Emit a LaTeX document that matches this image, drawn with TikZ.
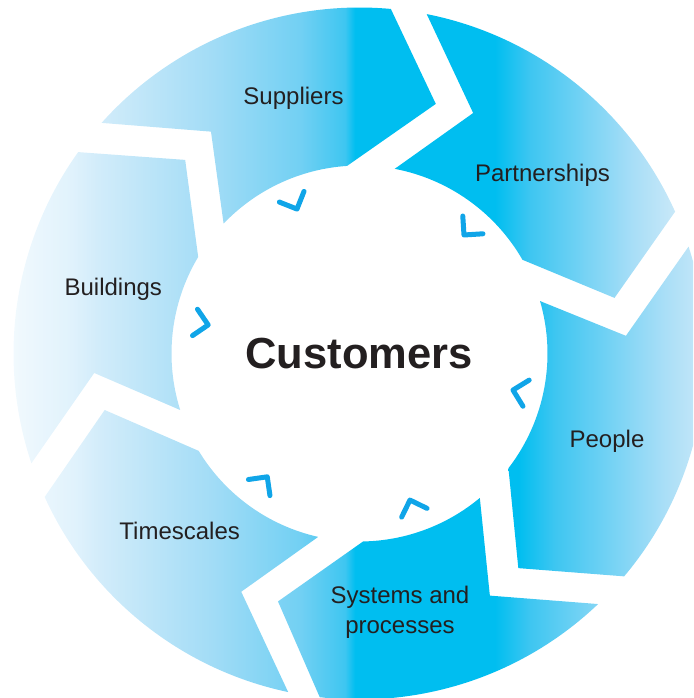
\documentclass[tikz,border=0pt]{standalone}
\usepackage{fontspec}
\setmainfont{Liberation Sans}
\usepackage{tikz}
\usetikzlibrary{positioning}
\usepackage{xcolor}

\definecolor{ringA}{HTML}{F6FBFE}
\definecolor{ringB}{HTML}{E0F2FC}
\definecolor{ringC}{HTML}{D2ECFA}
\definecolor{ringD}{HTML}{A2DCF6}
\definecolor{ringE}{HTML}{72D0F3}
\definecolor{ringF}{HTML}{3EC6F1}
\definecolor{ringG}{HTML}{00BEF0}
\definecolor{ringH}{HTML}{3EC6F1}
\definecolor{ringI}{HTML}{A8DEF7}
\definecolor{ringJ}{HTML}{C8E8F8}
\definecolor{ringK}{HTML}{E6F6FC}
\definecolor{chevblue}{HTML}{10A5E8}
\definecolor{textdark}{HTML}{231F20}

\pgfdeclarehorizontalshading{ringshade}{100bp}{%
  color(0bp)=(ringA); color(25bp)=(ringA); color(30.41bp)=(ringB);
  color(32.22bp)=(ringC); color(40.3bp)=(ringD); color(46.65bp)=(ringE);
  color(49.89bp)=(ringF); color(50.61bp)=(ringG); color(60.71bp)=(ringG);
  color(63.24bp)=(ringH); color(70.67bp)=(ringI); color(73.63bp)=(ringJ);
  color(75bp)=(ringK); color(100bp)=(ringK)}

\begin{document}
\begin{tikzpicture}[
    seg/.style={path picture={\shade[shading=ringshade] (-359.5pt,-344.5pt) rectangle (333.5pt,353.5pt);}},
    chev/.style={draw=chevblue, line width=5pt, line cap=round, line join=round},
    lbl/.style={font=\fontsize{24}{30}\selectfont, text=textdark, inner sep=0pt},
    ]
\useasboundingbox (-359.5pt,-344.5pt) rectangle (333.5pt,353.5pt);
\clip (-359.5pt,-344.5pt) rectangle (333.5pt,353.5pt);

% Ring segments (tail outer / notch / notch r / tail inner / head outer / tip / tip r / head inner)
\foreach \aO/\aN/\rN/\aI/\bO/\bT/\rT/\bI in {
    138.2/123.8/267/136.3/84.8/73.0/261/93.8,
    78.8/64.7/266/79.2/24.2/12.3/261/29.9,
    18.0/3.8/267/16.2/-40.1/-53.5/267/-37.6,
    -46.4/-61.7/275/-50.2/-96.6/-108.2/261/-88.9,
    -101.9/-116.4/266/-102.7/-155.5/-167.5/261/-148.8,
    198.5/184.2/266/197.5/144.4/132.0/260.5/149.1}
  \path[seg] (\aO:346pt) arc[start angle=\aO, end angle=\bO, radius=346pt]
    -- (\bT:\rT pt) -- (\bI:188pt) arc[start angle=\bI, end angle=\aI, radius=188pt]
    -- (\aN:\rN pt) -- cycle;

% Chevrons pointing to the centre
\foreach \ang/\rad in {113.4/157.4, 48.6/158, -13.4/157.8, -71/155, -126.8/154, 169.3/154}
  \draw[chev, shift={(\ang:\rad pt)}, rotate=\ang] (45:19pt) -- (0,0) -- (-45:19pt);

% Labels
\node[lbl, anchor=base] (suppliers) at (-66pt,248.5pt) {Suppliers};
\node[lbl, anchor=base] (partnerships) at (183pt,171.5pt) {Partnerships};
\node[lbl, anchor=base] (people) at (247.5pt,-94pt) {People};
\node[lbl, align=center] (systems) at (40.5pt,-259pt) {Systems and\\processes};
\node[lbl, anchor=base] (timescales) at (-179.8pt,-185.8pt) {Timescales};
\node[lbl, anchor=base] (buildings) at (-246.2pt,57.5pt) {Buildings};
\node[lbl, anchor=base, font=\bfseries\fontsize{43.5}{50}\selectfont] (customers) at (-0.5pt,-15.5pt) {Customers};

\end{tikzpicture}
\end{document}
